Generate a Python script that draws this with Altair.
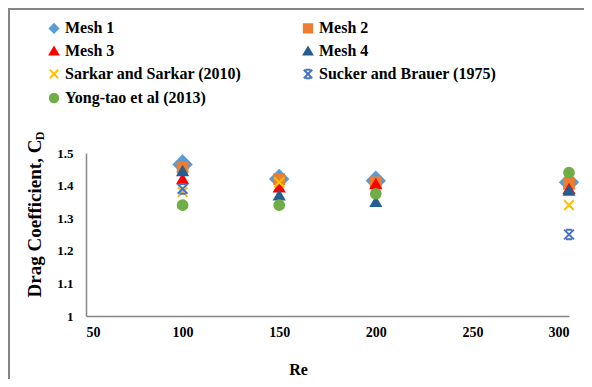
import altair as alt
import pandas as pd

# ---- data ----
series = ["Mesh 1", "Mesh 2", "Mesh 3", "Mesh 4",
          "Sarkar and Sarkar (2010)", "Sucker and Brauer (1975)", "Yong-tao et al (2013)"]

re_mesh = [100, 150, 200, 300]
mesh1 = [1.465, 1.42, 1.415, 1.41]
mesh2 = [1.455, 1.42, 1.41, 1.405]
mesh3 = [1.42, 1.395, 1.405, 1.39]
mesh4 = [1.445, 1.37, 1.35, 1.385]

re_sarkar = [100, 150, 300]
sarkar = [1.38, 1.41, 1.34]

re_sucker = [100, 300]
sucker = [1.39, 1.25]

re_yong = [100, 150, 200, 300]
yong = [1.34, 1.34, 1.375, 1.44]

x_ticks = [50, 100, 150, 200, 250, 300]
y_ticks = [1.0, 1.1, 1.2, 1.3, 1.4, 1.5]

rows = []
for name, xs, ys in [
    (series[0], re_mesh, mesh1),
    (series[1], re_mesh, mesh2),
    (series[2], re_mesh, mesh3),
    (series[3], re_mesh, mesh4),
    (series[4], re_sarkar, sarkar),
    (series[5], re_sucker, sucker),
    (series[6], re_yong, yong),
]:
    for xv, yv in zip(xs, ys):
        rows.append({"Re": xv, "Cd": yv, "Series": name})
df = pd.DataFrame(rows)

# ---- styles ----
colors = ["#5B9BD5", "#ED7D31", "#FF0000", "#255E91", "#FFC000", "#4472C4", "#70AD47"]
x_path = "M-1,-1L1,1M-1,1L1,-1"
star_path = "M-1,-1L1,1M-1,1L1,-1M-0.6,-1L0.6,-1M-0.6,1L0.6,1"
shapes = ["diamond", "square", "triangle-up", "triangle-up", x_path, star_path, "circle"]

FONT = "Liberation Serif"
GRAY = "#868686"

legend = alt.Legend(
    title=None, orient="none", legendX=-40, legendY=-133, columns=2,
    direction="horizontal",
    columnPadding=57, rowPadding=6, labelFont=FONT, labelFontSize=16,
    labelFontWeight="bold", labelColor="black", labelOffset=3,
    symbolSize=70, symbolStrokeWidth=2, labelLimit=400,
)

scale_fill = alt.Scale(domain=series, range=colors)
scale_shape = alt.Scale(domain=series, range=shapes)

x_enc = alt.X("Re:Q", scale=alt.Scale(domain=[50, 300], nice=False, zero=False),
              axis=alt.Axis(values=x_ticks, title="Re", titleX=212, titleY=53,
                            titleBaseline="middle", labelFontSize=14,
                            labelPadding=9, format="d"))
y_enc = alt.Y("Cd:Q", scale=alt.Scale(domain=[1.0, 1.5], nice=False, zero=False),
              axis=alt.Axis(values=y_ticks, title="Drag Coefficient, C", format="~g",
                            titleX=-52, titleY=65, titleAngle=270, titleFontSize=19,
                            titleBaseline="middle", labelFontSize=13,
                            labelPadding=13))

def point_layer(data, size):
    return alt.Chart(data).mark_point(
        filled=True, strokeWidth=2, opacity=1, size=size).encode(
        x=x_enc, y=y_enc,
        color=alt.Color("Series:N", scale=scale_fill, legend=legend),
        stroke=alt.Stroke("Series:N", scale=scale_fill, legend=None),
        shape=alt.Shape("Series:N", scale=scale_shape, legend=legend),
    )

big = point_layer(df[df["Series"] == series[0]], 310)
rest = point_layer(df[df["Series"] != series[0]], 95)

sub_d = alt.Chart(pd.DataFrame({"t": ["D"]})).mark_text(
    font=FONT, fontSize=12, fontWeight="bold", angle=270, color="black",
    align="center", baseline="middle",
).encode(x=alt.value(-46), y=alt.value(-17), text="t:N")

frame_top = alt.Chart(pd.DataFrame({"t": [0]})).mark_rule(
    color=GRAY, strokeWidth=2).encode(
    x=alt.value(-78), x2=alt.value(506), y=alt.value(-144))
frame_left = alt.Chart(pd.DataFrame({"t": [0]})).mark_rule(
    color=GRAY, strokeWidth=2).encode(
    x=alt.value(-77), y=alt.value(-145), y2=alt.value(234))

chart = alt.layer(frame_top, frame_left, big, rest, sub_d).properties(
    width=483, height=163,
    background="white",
    autosize=alt.AutoSizeParams(type="none"),
    padding={"left": 78, "top": 145, "right": 15, "bottom": 63},
).configure_view(stroke=None).configure_axis(
    grid=False, ticks=False, domainColor=GRAY, domainWidth=1.5,
    labelFont=FONT, labelFontWeight="bold", labelColor="black",
    titleFont=FONT, titleFontWeight="bold", titleFontSize=16, titleColor="black",
)

chart.save("out.html", embed_options={"renderer": "svg", "actions": False})
